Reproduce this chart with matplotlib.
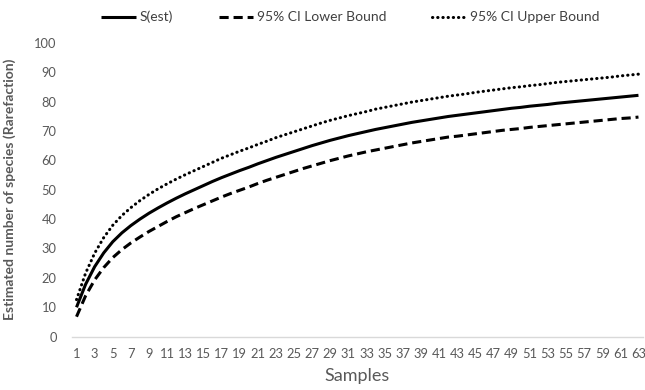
import matplotlib
matplotlib.use("Agg")
import matplotlib.pyplot as plt

# species rarefaction values
samples = list(range(1, 64))
s_est = [10.0, 17.8, 23.8, 28.5, 32.3, 35.3, 37.8, 40.0, 42.0, 43.8,
         45.5, 47.1, 48.6, 50.0, 51.4, 52.8, 54.1, 55.3, 56.5, 57.6,
         58.8, 59.9, 61.0, 62.0, 63.0, 64.0, 65.0, 65.9, 66.8, 67.6,
         68.4, 69.1, 69.8, 70.5, 71.1, 71.7, 72.3, 72.9, 73.4, 73.9,
         74.4, 74.9, 75.3, 75.7, 76.1, 76.5, 76.9, 77.3, 77.7, 78.0,
         78.4, 78.7, 79.0, 79.4, 79.7, 80.0, 80.3, 80.6, 80.9, 81.2,
         81.5, 81.8, 82.1]
ci_lower = [6.8, 13.9, 19.3, 23.5, 26.9, 29.6, 31.9, 33.9, 35.8, 37.5,
            39.2, 40.8, 42.2, 43.6, 44.9, 46.2, 47.5, 48.7, 49.8, 50.9,
            52.1, 53.2, 54.2, 55.2, 56.2, 57.2, 58.1, 59.0, 59.9, 60.7,
            61.5, 62.2, 62.9, 63.5, 64.1, 64.7, 65.3, 65.9, 66.4, 66.9,
            67.4, 67.9, 68.2, 68.6, 69.0, 69.4, 69.8, 70.2, 70.5, 70.8,
            71.2, 71.5, 71.8, 72.1, 72.4, 72.7, 73.0, 73.3, 73.6, 73.9,
            74.2, 74.4, 74.7]
ci_upper = [12.6, 21.6, 28.4, 33.7, 37.9, 41.2, 43.9, 46.3, 48.4, 50.3,
            52.0, 53.6, 55.1, 56.5, 57.9, 59.3, 60.7, 61.9, 63.1, 64.2,
            65.4, 66.5, 67.7, 68.7, 69.7, 70.7, 71.7, 72.7, 73.6, 74.4,
            75.2, 75.9, 76.6, 77.4, 78.0, 78.6, 79.2, 79.8, 80.3, 80.8,
            81.3, 81.8, 82.2, 82.6, 83.1, 83.5, 83.9, 84.3, 84.7, 85.0,
            85.4, 85.7, 86.1, 86.5, 86.8, 87.1, 87.4, 87.7, 88.0, 88.3,
            88.7, 89.0, 89.3]
y_ticks = list(range(0, 101, 10))
x_ticks = list(range(1, 64, 2))

plt.rcParams['font.family'] = ['Lato', 'DejaVu Sans']
grey = '#595959'

fig = plt.figure(figsize=(6.45, 3.9), dpi=100)
ax = fig.add_axes([0.1116, 0.1367, 0.8853, 0.7538])

ax.plot(samples, s_est, color='black', lw=2.2, solid_capstyle='butt', label='S(est)')
ax.plot(samples, ci_lower, color='black', lw=2.2, linestyle=(0, (3, 1.6)),
        dash_capstyle='butt', label='95% CI Lower Bound')
ax.plot(samples, ci_upper, color='black', lw=2.2, linestyle=(0, (0.1, 1.6)),
        dash_capstyle='round', label='95% CI Upper Bound')

ax.set_xlim(0.5, 63.5)
ax.set_ylim(0, 100)
ax.set_xticks(x_ticks)
ax.set_yticks(y_ticks)
ax.tick_params(axis='both', length=0, labelsize=9.3, labelcolor=grey)
ax.tick_params(axis='y', pad=11)
ax.tick_params(axis='x', pad=8)

for side in ['top', 'right', 'left']:
    ax.spines[side].set_visible(False)
ax.spines['bottom'].set_color('#d9d9d9')
ax.spines['bottom'].set_linewidth(1.0)

ax.set_xlabel('Samples', fontsize=13, color=grey, labelpad=6)
ax.set_ylabel('Estimated number of species (Rarefaction)', fontsize=10,
              fontweight='bold', color=grey, labelpad=13)

ax.legend(loc='center', bbox_to_anchor=(0.5434, 0.956), bbox_transform=fig.transFigure,
          ncol=3, frameon=False, fontsize=10, handlelength=2.5, handletextpad=0.25,
          columnspacing=3.3, labelcolor='#404040')

fig.savefig('out.png', dpi=100)
